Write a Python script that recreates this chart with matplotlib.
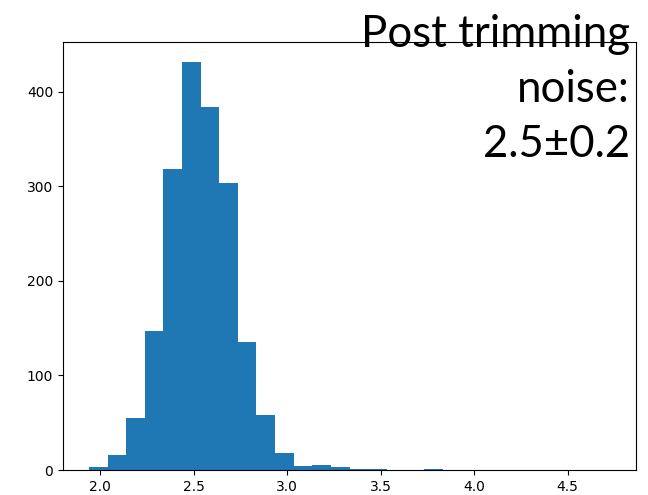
import numpy as np
import matplotlib
matplotlib.use('Agg')
import matplotlib.pyplot as plt

# histogram of post-trimming noise
bin_start = 1.94
bin_width = 0.0995
counts = [3, 16, 55, 147, 318, 431, 384, 303, 135, 58, 18, 4, 5, 3,
          1, 1, 0, 0, 1, 0, 0, 0, 0, 0, 0, 0, 0, 0]
label = 'Post trimming\nnoise:\n2.5±0.2'

edges = bin_start + bin_width * np.arange(len(counts) + 1)
centers = (edges[:-1] + edges[1:]) / 2

fig = plt.figure(figsize=(6.48, 4.95), dpi=100)
ax = fig.add_axes([63 / 648, 25 / 495, 573 / 648, 428 / 495])
ax.hist(centers, bins=edges, weights=counts, color='#1f77b4')

fig.text(630 / 648, 1 - 157 / 495, label, ha='right', va='baseline',
         fontsize=31.5, family='Lato', linespacing=1.42)

plt.savefig('out.png')
